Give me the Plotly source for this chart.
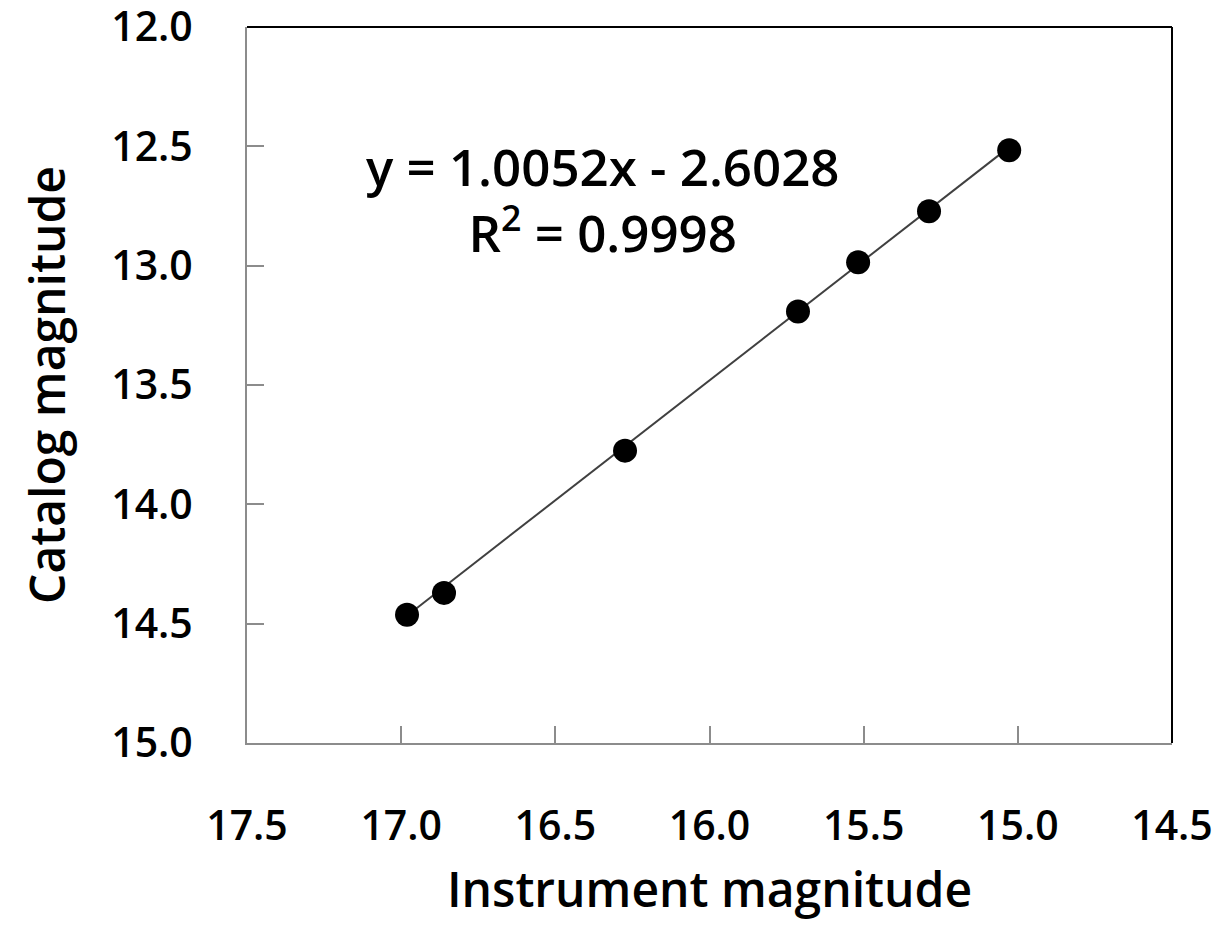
import plotly.graph_objects as go
import numpy as np

instrument_mag = [16.981, 16.861, 16.274, 15.713, 15.518, 15.288, 15.028]
catalog_mag = [14.463, 14.371, 13.775, 13.192, 12.986, 12.772, 12.516]
slope = 1.0052
intercept = -2.6028
r2 = 0.9998

x_ticks = [17.5, 17.0, 16.5, 16.0, 15.5, 15.0, 14.5]
y_ticks = [12.0, 12.5, 13.0, 13.5, 14.0, 14.5, 15.0]

FONT = "Open Sans"
fx = np.array([min(instrument_mag), max(instrument_mag)])
fy = slope * fx + intercept

fig = go.Figure()
fig.add_trace(go.Scatter(x=fx, y=fy, mode="lines",
                         line=dict(color="#404040", width=2), showlegend=False))
fig.add_trace(go.Scatter(x=instrument_mag, y=catalog_mag, mode="markers",
                         marker=dict(color="black", size=24), showlegend=False))

ann_font = dict(family=FONT, size=51, color="black", weight=600)
fig.add_annotation(x=0.385, y=0.76, xref="paper", yref="paper",
                   xanchor="center", yanchor="middle", align="center",
                   text=f"y = {slope:.4f}x - {abs(intercept):.4f}<br>R<sup>2</sup> = {r2:.4f}",
                   showarrow=False, font=ann_font)

fig.add_shape(type="line", xref="paper", yref="paper", x0=0, x1=1, y0=1, y1=1,
              line=dict(color="black", width=2))
fig.add_shape(type="line", xref="paper", yref="paper", x0=1, x1=1, y0=0, y1=1,
              line=dict(color="black", width=2))

axis_common = dict(showgrid=False, zeroline=False, showline=True, linecolor="#8c8c8c",
                   linewidth=2, ticks="inside", ticklen=17, tickcolor="#8c8c8c", tickwidth=2,
                   ticklabeloverflow="allow", automargin=False,
                   tickfont=dict(family=FONT, size=41, color="black", weight=600))

fig.update_xaxes(range=[17.5, 14.5], tickvals=x_ticks,
                 ticktext=[f"{v:.1f}" for v in x_ticks], ticklabelstandoff=46,
                 title=dict(text="Instrument magnitude", standoff=22,
                            font=dict(family=FONT, size=48, color="black", weight=600)),
                 **axis_common)
fig.update_yaxes(range=[15.0, 12.0], tickvals=y_ticks,
                 ticktext=[f"{v:.1f}" for v in y_ticks], ticklabelstandoff=44,
                 title=dict(text="Catalog magnitude", standoff=30,
                            font=dict(family=FONT, size=48, color="black", weight=600)),
                 **axis_common)

fig.update_layout(width=1217, height=925, plot_bgcolor="white", paper_bgcolor="white",
                  margin=dict(l=247, r=45, t=27, b=182))

fig.write_html("out.html")
